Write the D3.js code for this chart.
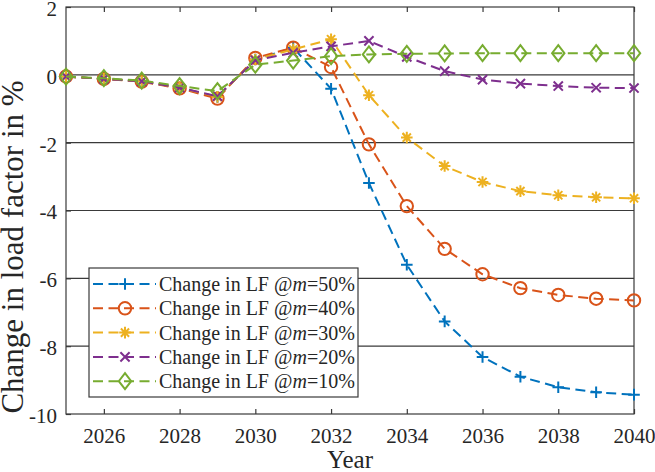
<!DOCTYPE html>
<meta charset="utf-8">
<style>
body { margin: 0; background: #fff; }
text { font-family: "Liberation Serif", "Times New Roman", serif; fill: #262626; }
.grid line { stroke: #3a3a3a; stroke-width: 1.2px; }
.series { fill: none; stroke-width: 2px; stroke-dasharray: 10,5.5; }
.mark { fill: none; stroke-width: 2px; }
</style>
<body>
<script src="https://d3js.org/d3.v7.min.js"></script>
<script>
// values
var years = d3.range(2025, 2041);
var m50 = [-0.05,-0.12,-0.19,-0.38,-0.65,0.45,0.80,-0.41,-3.19,-5.60,-7.27,-8.32,-8.90,-9.21,-9.36,-9.43];
var m40 = [-0.05,-0.12,-0.20,-0.40,-0.70,0.50,0.80,0.23,-2.05,-3.87,-5.13,-5.88,-6.29,-6.49,-6.60,-6.65];
var m30 = [-0.05,-0.12,-0.19,-0.38,-0.65,0.45,0.75,1.05,-0.60,-1.85,-2.69,-3.16,-3.43,-3.55,-3.61,-3.64];
var m20 = [-0.05,-0.12,-0.19,-0.38,-0.63,0.43,0.65,0.84,1.00,0.53,0.11,-0.14,-0.26,-0.33,-0.38,-0.39];
var m10 = [-0.05,-0.10,-0.17,-0.33,-0.48,0.30,0.42,0.55,0.60,0.62,0.63,0.64,0.64,0.64,0.64,0.64];
var legendLabels = ["50%", "40%", "30%", "20%", "10%"];
var xTicks = [2026, 2028, 2030, 2032, 2034, 2036, 2038, 2040];
var yTicks = [-10, -8, -6, -4, -2, 0, 2];

var series = [
  {vals: m50, color: "#0072BD", marker: "plus"},
  {vals: m40, color: "#D95319", marker: "circle"},
  {vals: m30, color: "#EDB120", marker: "star"},
  {vals: m20, color: "#7E2F8E", marker: "cross"},
  {vals: m10, color: "#77AC30", marker: "diamond"}
];

var W = 655, H = 472,
    pl = 66, pt = 7, pw = 568, ph = 407;

var svg = d3.select("body").append("svg")
    .attr("width", W)
    .attr("height", H);

var x = d3.scaleLinear().domain([2025, 2040]).range([pl, pl + pw]);
var y = d3.scaleLinear().domain([-10, 2]).range([pt + ph, pt]);

// grid
svg.append("g").attr("class", "grid")
  .selectAll("line").data(yTicks.filter(function(d){ return d > -10 && d < 2; }))
  .enter().append("line")
    .attr("x1", pl).attr("x2", pl + pw)
    .attr("y1", function(d){ return y(d); })
    .attr("y2", function(d){ return y(d); });

// axes, MATLAB style: ticks inside, plain hyphen minus
var fmt = function(d){ return String(d); };
var xAxis = svg.append("g")
    .attr("transform", "translate(0," + (pt + ph) + ")")
    .call(d3.axisBottom(x).tickValues(xTicks).tickFormat(fmt).tickSizeInner(-5).tickSizeOuter(0).tickPadding(14));
var xTop = svg.append("g")
    .attr("transform", "translate(0," + pt + ")")
    .call(d3.axisTop(x).tickValues(xTicks).tickFormat("").tickSizeInner(-5).tickSizeOuter(0));
var yAxis = svg.append("g")
    .attr("transform", "translate(" + pl + ",0)")
    .call(d3.axisLeft(y).tickValues(yTicks).tickFormat(fmt).tickSizeInner(-5).tickSizeOuter(0).tickPadding(9));

[xAxis, xTop, yAxis].forEach(function(a) {
  a.selectAll("path").remove();
  a.selectAll("line").attr("stroke", "#3a3a3a").attr("stroke-width", 1.2);
  a.selectAll("text").attr("font-size", 21).attr("fill", "#262626")
    .attr("font-family", "Liberation Serif");
});
yAxis.selectAll("text").attr("dy", "0.4em");

svg.append("rect")
    .attr("x", pl).attr("y", pt).attr("width", pw).attr("height", ph)
    .attr("fill", "none").attr("stroke", "#3a3a3a").attr("stroke-width", 1.2);

// marker shapes
function markerPath(type) {
  if (type === "plus") { var p = 5.8; return "M" + -p + ",0H" + p + "M0," + -p + "V" + p; }
  if (type === "circle") return d3.arc()({innerRadius: 0, outerRadius: 6.2, startAngle: 0, endAngle: 2 * Math.PI});
  if (type === "cross") { var c = 4.6; return "M" + -c + "," + -c + "L" + c + "," + c + "M" + -c + "," + c + "L" + c + "," + -c; }
  if (type === "star") {
    var s = 5.8, k = 4.1;
    return "M" + -s + ",0H" + s + "M0," + -s + "V" + s +
           "M" + -k + "," + -k + "L" + k + "," + k + "M" + -k + "," + k + "L" + k + "," + -k;
  }
  if (type === "diamond") return "M0,-8L6.2,0L0,8L-6.2,0Z";
}

var line = d3.line()
    .x(function(d, i){ return x(years[i]); })
    .y(function(d){ return y(d); });

series.forEach(function(s) {
  var g = svg.append("g");
  g.append("path").attr("class", "series").attr("stroke", s.color).attr("d", line(s.vals));
  g.selectAll("path.mark").data(s.vals).enter().append("path")
    .attr("class", "mark")
    .attr("stroke", s.color)
    .attr("transform", function(d, i){ return "translate(" + x(years[i]) + "," + y(d) + ")"; })
    .attr("d", markerPath(s.marker));
});

// legend
var lg = svg.append("g");
var lx = 89, ly = 268, rowH = 24.3;
lg.append("rect")
    .attr("x", lx).attr("y", ly).attr("width", 269).attr("height", 129)
    .attr("fill", "#fff").attr("stroke", "#3a3a3a").attr("stroke-width", 1.2);

series.forEach(function(s, i) {
  var cy = ly + 16 + i * rowH;
  lg.append("line").attr("class", "series").attr("stroke", s.color)
    .attr("x1", lx + 4).attr("x2", lx + 67).attr("y1", cy).attr("y2", cy);
  lg.append("path").attr("class", "mark").attr("stroke", s.color)
    .attr("transform", "translate(" + (lx + 36) + "," + cy + ")")
    .attr("d", markerPath(s.marker));
  var t = lg.append("text").attr("x", lx + 70).attr("y", cy).attr("dy", "0.35em")
    .attr("font-size", 20);
  t.append("tspan").text("Change in LF @");
  t.append("tspan").attr("font-style", "italic").text("m");
  t.append("tspan").text("=" + legendLabels[i]);
});

// axis titles
svg.append("text")
    .attr("x", pl + pw / 2).attr("y", 468)
    .attr("text-anchor", "middle").attr("font-size", 25)
    .text("Year");
svg.append("text")
    .attr("transform", "translate(23,247) rotate(-90)")
    .attr("text-anchor", "middle").attr("font-size", 31)
    .text("Change in load factor in %");
</script>
</body>
